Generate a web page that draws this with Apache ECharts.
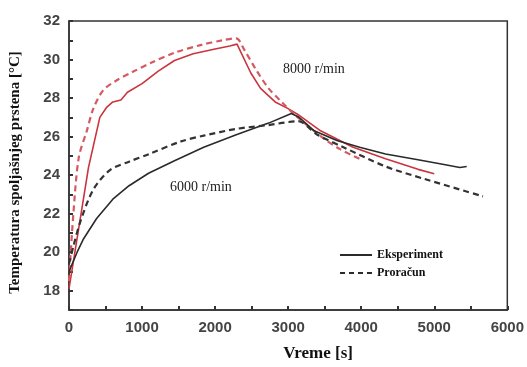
<!DOCTYPE html>
<html><head><meta charset="utf-8">
<script src="https://cdn.jsdelivr.net/npm/echarts@6/dist/echarts.min.js"></script>
<style>html,body{margin:0;padding:0;background:#fff}#c{width:527px;height:367px}</style>
</head><body><div id="c"></div>
<script>
// 8000 r/min experiment
var t8exp = [0, 267, 422, 511, 600, 711, 800, 1000, 1222, 1444, 1700, 2000, 2200, 2300, 2489, 2622, 2822, 3000, 3133, 3444, 3889, 4333, 4778, 5000];
var T8exp = [18.1, 24.4, 27.0, 27.5, 27.8, 27.9, 28.3, 28.75, 29.4, 29.95, 30.3, 30.55, 30.7, 30.8, 29.3, 28.5, 27.8, 27.45, 27.15, 26.3, 25.45, 24.85, 24.3, 24.07];
// 8000 r/min calculation
var t8calc = [0, 60, 133, 244, 333, 467, 644, 867, 1133, 1444, 1800, 2100, 2289, 2400, 2556, 2733, 2911, 3100, 3489, 3711, 4000];
var T8calc = [18.5, 22.0, 24.9, 26.3, 27.45, 28.4, 28.9, 29.35, 29.85, 30.35, 30.75, 31.0, 31.1, 30.5, 29.5, 28.5, 27.8, 27.1, 25.9, 25.35, 24.8];
// 6000 r/min experiment
var t6exp = [0, 111, 200, 378, 600, 822, 1089, 1444, 1844, 2289, 2733, 3044, 3150, 3356, 3667, 3978, 4333, 4778, 5133, 5350, 5444];
var T6exp = [19.0, 20.0, 20.7, 21.75, 22.75, 23.45, 24.1, 24.75, 25.45, 26.1, 26.7, 27.2, 27.0, 26.3, 25.8, 25.45, 25.1, 24.8, 24.55, 24.4, 24.45];
// 6000 r/min calculation
var t6calc = [0, 60, 156, 333, 556, 822, 1100, 1533, 1844, 2289, 2733, 3133, 3400, 3756, 4333, 4867, 5667];
var T6calc = [19.4, 20.3, 21.6, 23.25, 24.25, 24.7, 25.1, 25.75, 26.05, 26.4, 26.6, 26.8, 26.1, 25.45, 24.45, 23.8, 22.9];

var legendNames = ['Eksperiment', 'Proračun'];
var annot8 = '8000 r/min', annot6 = '6000 r/min';
var xTitle = 'Vreme [s]', yTitle = 'Temperatura spoljašnjeg prstena [°C]';

function pairs(xs, ys){ return xs.map(function(x,i){ return [x, ys[i]]; }); }

var RED = '#c9353d', RED2 = '#d45a62', BLK = '#2a2a2a';
var chart = echarts.init(document.getElementById('c'));
chart.setOption({
  animation: false,
  grid: {left: 65, right: 11, top: 21, bottom: 50, show: true, borderColor: '#333', borderWidth: 1.5},
  xAxis: {
    type: 'value', min: 0, max: 6000, interval: 500,
    name: xTitle, nameLocation: 'middle', nameGap: 35,
    nameTextStyle: {fontFamily: 'Liberation Serif', fontWeight: 'bold', fontSize: 17, color: '#111', padding: [0,0,0,60]},
    axisLine: {lineStyle: {color: '#333', width: 1.5}},
    axisTick: {inside: true, length: 4, lineStyle: {color: '#333', width: 2}},
    splitLine: {show: false},
    axisLabel: {margin: 10, fontFamily: 'Liberation Sans', fontWeight: 'bold', fontSize: 15, color: '#444',
      formatter: function(v){ return v % 1000 === 0 ? String(v) : ''; }}
  },
  yAxis: {
    type: 'value', min: 17, max: 32, interval: 1,
    name: yTitle, nameLocation: 'middle', nameGap: 46, nameRotate: 90,
    nameTextStyle: {fontFamily: 'Liberation Serif', fontWeight: 'bold', fontSize: 15, color: '#111', padding: [0,14,0,0]},
    axisLine: {lineStyle: {color: '#333', width: 1.5}},
    axisTick: {inside: true, length: 4, lineStyle: {color: '#333', width: 2}},
    splitLine: {show: false},
    axisLabel: {margin: 9, fontFamily: 'Liberation Sans', fontWeight: 'bold', fontSize: 15, color: '#444',
      formatter: function(v){ return v % 2 === 0 ? String(v) : ''; }}
  },
  legend: {
    orient: 'vertical', left: 334, top: 244, itemWidth: 32, itemHeight: 10, itemGap: 6,
    data: legendNames,
    itemStyle: {opacity: 0},
    textStyle: {fontFamily: 'Liberation Serif', fontWeight: 'bold', fontSize: 12, color: '#111'}
  },
  graphic: [
    {type: 'text', left: 283, top: 62, style: {text: annot8, font: '14px "Liberation Serif"', fill: '#222'}},
    {type: 'text', left: 170, top: 180, style: {text: annot6, font: '14px "Liberation Serif"', fill: '#222'}}
  ],
  series: [
    {name: legendNames[0], type: 'line', data: [], symbol: 'none', lineStyle: {color: BLK, width: 2, type: 'solid'}, itemStyle: {color: BLK}},
    {name: legendNames[1], type: 'line', data: [], symbol: 'none', lineStyle: {color: BLK, width: 2, type: [5,4]}, itemStyle: {color: BLK}},
    {name: 'e8', type: 'line', data: pairs(t8exp, T8exp), symbol: 'none', lineStyle: {color: RED, width: 1.6}},
    {name: 'c8', type: 'line', data: pairs(t8calc, T8calc), symbol: 'none', smooth: 0.3, lineStyle: {color: RED2, width: 2.2, type: [6,4]}},
    {name: 'e6', type: 'line', data: pairs(t6exp, T6exp), symbol: 'none', lineStyle: {color: BLK, width: 1.6}},
    {name: 'c6', type: 'line', data: pairs(t6calc, T6calc), symbol: 'none', smooth: 0.3, lineStyle: {color: '#333', width: 2.2, type: [6,4]}}
  ]
});
</script></body></html>
